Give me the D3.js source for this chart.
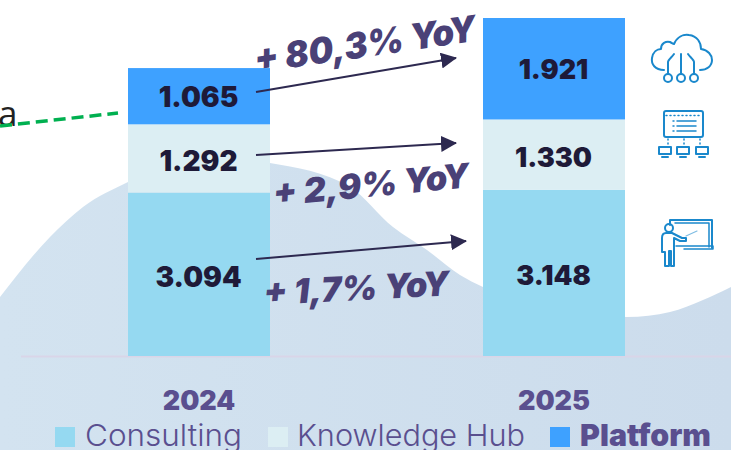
<!DOCTYPE html>
<html><head><meta charset="utf-8">
<script src="https://cdn.jsdelivr.net/npm/d3@7/dist/d3.min.js"></script>
<style>html,body{margin:0;padding:0;background:#fff;overflow:hidden}svg{display:block}</style>
</head><body><div id="c"></div>
<script>
const years = ["2024","2025"];
const seriesNames = ["Consulting","Knowledge Hub","Platform"];
const consulting = [3094,3148];
const knowledgeHub = [1292,1330];
const platform = [1065,1921];
const seriesValues = [consulting,knowledgeHub,platform];
const seriesColors = ["#95d9f1","#dceef3","#3ea1ff"];
const growthLabels = ["+ 1,7% YoY","+ 2,9% YoY","+ 80,3% YoY"];
const hillX = [0,50,83,128,170,205,270,350,393,427,460,483,550,627,670,703,731];
const hillY = [297,237,207,182,164,157,163,187,227,250,275,287,310,317,312,300,287];

const W=731,H=450;
const svg=d3.select("#c").append("svg").attr("width",W).attr("height",H);
const defs=svg.append("defs");
const g=defs.append("linearGradient").attr("id","hill");
g.append("stop").attr("offset","0").attr("stop-color","#d3e3f0");
g.append("stop").attr("offset","1").attr("stop-color","#ccdcec");
defs.append("marker").attr("id","ah").attr("viewBox","0 0 16 16").attr("refX",15).attr("refY",8)
 .attr("markerWidth",16).attr("markerHeight",16).attr("markerUnits","userSpaceOnUse").attr("orient","auto")
 .append("path").attr("d","M0,0L16,8L0,16Z").attr("fill","#2d2950");

const hill=d3.area().x((d,i)=>hillX[i]).y0(H).y1(d=>d).curve(d3.curveMonotoneX);
svg.append("path").attr("d",hill(hillY)).attr("fill","url(#hill)");

const x=d3.scaleBand().domain(years).range([128,625]).paddingInner(0.6).paddingOuter(0);
const y=d3.scaleLinear().domain([0,6399]).range([356,18]);
const rows=years.map((yr,i)=>{const o={year:yr};seriesNames.forEach((s,k)=>o[s]=seriesValues[k][i]);return o;});
const stack=d3.stack().keys(seriesNames)(rows);
const fmt=v=>d3.format(",")(v).replace(",",".");

// baseline
svg.append("line").attr("x1",21).attr("x2",W).attr("y1",356.5).attr("y2",356.5).attr("stroke","#d9d5e8").attr("stroke-width",2);

// stripped-down year axis
const axis=svg.append("g").attr("transform","translate(0,356)")
 .call(d3.axisBottom(x).tickSize(0).tickPadding(35));
axis.select(".domain").remove();
axis.selectAll("text").attr("font-family","Inter").attr("font-weight",900).attr("font-size",27).attr("fill","#5a4f8f");

const valueOffset=[5,5,3];
stack.forEach((s,k)=>{
 const gr=svg.append("g");
 gr.selectAll("rect").data(s).join("rect")
  .attr("x",d=>x(d.data.year)).attr("width",x.bandwidth())
  .attr("y",d=>y(d[1])).attr("height",d=>y(d[0])-y(d[1])).attr("fill",seriesColors[k]);
 gr.selectAll("text").data(s).join("text")
  .attr("x",d=>x(d.data.year)+x.bandwidth()/2-0.5)
  .attr("y",d=>(y(d[0])+y(d[1]))/2+valueOffset[k])
  .attr("text-anchor","middle").attr("dominant-baseline","middle")
  .attr("font-family","Inter").attr("font-weight",900)
  .attr("font-size",d=>d.data.year==="2025"?27:28).attr("fill","#1e1a38")
  .text(d=>fmt(d[1]-d[0]));
});

// arrows
const arrows=[[256,259,466,241],[256,155,456,143],[256,92,456,58]];
svg.selectAll(".arrow").data(arrows).join("line").attr("class","arrow")
 .attr("x1",d=>d[0]).attr("y1",d=>d[1]).attr("x2",d=>d[2]).attr("y2",d=>d[3])
 .attr("stroke","#2d2950").attr("stroke-width",2).attr("marker-end","url(#ah)");

// growth labels
const labelPos=[[264,305,-3,186],[274,206,-5.5,197],[256,73,-8.3,224]];
svg.selectAll(".gl").data(growthLabels).join("text").attr("class","gl")
 .attr("transform",(d,i)=>`translate(${labelPos[i][0]},${labelPos[i][1]}) rotate(${labelPos[i][2]})`)
 .attr("font-family","Inter").attr("font-weight",900).attr("font-style","italic").attr("font-size",(d,i)=>i==2?36:34)
 .attr("fill","#4a4177").attr("textLength",(d,i)=>labelPos[i][3]).attr("lengthAdjust","spacingAndGlyphs")
 .text(d=>d);

// green dashed fragment
svg.append("text").attr("x",-2).attr("y",126).attr("font-family","Open Sans").attr("font-size",35).attr("fill","#222").text("a");
svg.append("line").attr("x1",0).attr("y1",126).attr("x2",118).attr("y2",113).attr("stroke","#00b050").attr("stroke-width",3.5).attr("stroke-dasharray","12,6");

// legend
const legX=[55,268,550],legTX=[85,297,580],legW=[157,228,131];
const leg=svg.selectAll(".leg").data(seriesNames).join("g").attr("class","leg");
leg.append("rect").attr("x",(d,i)=>legX[i]).attr("y",427).attr("width",20).attr("height",20).attr("fill",(d,i)=>seriesColors[i]);
leg.append("text").attr("x",(d,i)=>legTX[i]).attr("y",446)
 .attr("font-family","Inter").attr("font-weight",(d,i)=>i==2?900:300).attr("font-size",30).attr("fill","#5a4f8f")
 .attr("textLength",(d,i)=>legW[i]).attr("lengthAdjust","spacingAndGlyphs").text(d=>d);

// icons
const ic=svg.append("g").attr("fill","none").attr("stroke","#1a88cc").attr("stroke-width",2).attr("stroke-linecap","round").attr("stroke-linejoin","round");
ic.append("path").attr("d","M664,70C655,70 651,64 652,58C653,52 657,49 661,49C661,43 666,41 670,42C672,43 673,44 674,44C677,37 683,34 689,35C697,36 701,42 701,49C708,50 712,55 712,60C712,66 707,70 700,70");
[[668,78,"M668,74V62C668,60 672,57 674,54"],[681,78,"M681,74V54"],[694,78,"M694,74V62C694,60 690,57 688,54"]].forEach(a=>{
 ic.append("circle").attr("cx",a[0]).attr("cy",a[1]).attr("r",4);
 ic.append("path").attr("d",a[2]);
});
ic.append("rect").attr("x",664).attr("y",111).attr("width",39).attr("height",26).attr("rx",2);
ic.append("path").attr("d","M666,115.5H701").attr("stroke-dasharray","1,3").attr("stroke-width",1.5);
ic.append("path").attr("d","M677,121H696M677,126H696M677,131H696M673,121H674M673,126H674M673,131H674").attr("stroke-width",1.5);
ic.append("path").attr("d","M668,139V145M684,139V145M700,139V145").attr("stroke-dasharray","1,3").attr("stroke-width",1.5);
[659,677,696].forEach(px=>{
 ic.append("rect").attr("x",px).attr("y",147).attr("width",12).attr("height",7);
 ic.append("path").attr("d",`M${px+3},157H${px+9}`);
});
ic.append("path").attr("d","M670,225V220H712V248");
ic.append("path").attr("d","M675,223H709V247M684,249H713V246H676").attr("stroke-width",1.5);
ic.append("path").attr("d","M686,236L697,231").attr("stroke","#7fbde3").attr("stroke-width",1.2);
ic.append("circle").attr("cx",669).attr("cy",228).attr("r",4);
ic.append("path").attr("d","M672,233L682,238H686V241H680L674,238V266H671V251H669V266H665V252H662V238C662,234 664,233 666,233Z");
</script></body></html>
